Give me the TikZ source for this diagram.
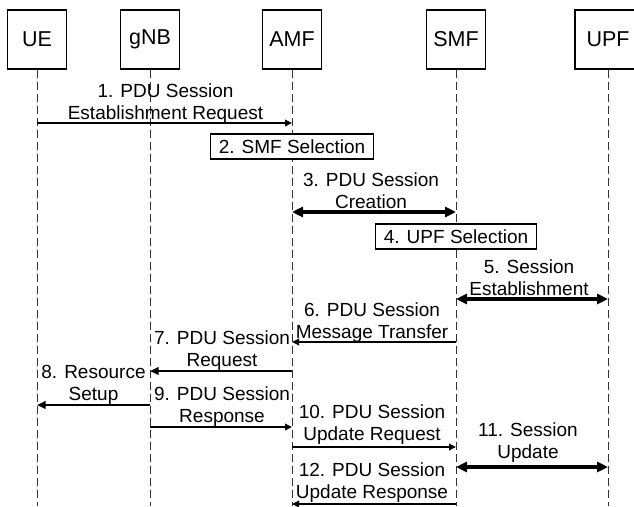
\documentclass[tikz,border=0pt]{standalone}
\usepackage{fontspec}
\setmainfont{Liberation Sans}
\usetikzlibrary{arrows.meta,calc}
% two centred lines whose baseline is the baseline of the last line
\newcommand\lbltwo[2]{\begin{tabular}[b]{@{}c@{}}#1\\#2\end{tabular}}
\begin{document}
\begin{tikzpicture}[x=1pt,y=-1pt,
  actor/.style={draw, fill=white, line width=1.2pt, minimum width=59pt, minimum height=59pt,
    inner sep=0pt, font=\fontsize{21.5}{24}\selectfont},
  stepbox/.style={draw, fill=white, line width=1.1pt, minimum height=25pt, inner xsep=8.5pt,
    inner ysep=0pt, font=\fontsize{19}{21.5}\selectfont},
  lifeline/.style={line width=0.9pt, dash pattern=on 8pt off 4pt, draw=black!80},
  msg/.style={line width=1.8pt, -{Triangle[length=7pt,width=6.5pt]}},
  msgmid/.style={line width=2.5pt, -{Triangle[length=8.5pt,width=7.5pt]}},
  bidir/.style={line width=3.5pt,
    {Triangle[length=11pt,width=10pt]}-{Triangle[length=11pt,width=10pt]}},
  lbl/.style={anchor=base, inner sep=0pt, font=\fontsize{19}{21.5}\selectfont}]

\useasboundingbox[fill=white] (0,0) rectangle (634,506);

% participants
\node[actor] (ue)  at (37,39.5)  {UE};
\node[actor] (gnb) at (150,39.5) {gNB};
\node[actor] (amf) at (292,39.5) {AMF};
\node[actor] (smf) at (456,39.5) {SMF};
\node[actor, minimum width=66pt] (upf) at (608,39.5) {UPF};

\coordinate (bottom) at (0,506);
\foreach \p in {ue,gnb,amf,smf,upf}
  \draw[lifeline] (\p.south) -- (\p |- bottom);

% message rows (arrow height) and label baselines
\coordinate (y1) at (0,123);  \coordinate (b1) at (0,119);
\coordinate (y2) at (0,146.5);
\coordinate (y3) at (0,212);  \coordinate (b3) at (0,208);
\coordinate (y4) at (0,236.5);
\coordinate (y5) at (0,299);  \coordinate (b5) at (0,295);
\coordinate (y6) at (0,342);  \coordinate (b6) at (0,338);
\coordinate (y7) at (0,371);  \coordinate (b7) at (0,366);
\coordinate (y8) at (0,405);  \coordinate (b8) at (0,400);
\coordinate (y9) at (0,427);  \coordinate (b9) at (0,422);
\coordinate (y10) at (0,447); \coordinate (b10) at (0,440);
\coordinate (y11) at (0,467); \coordinate (b11) at (0,458);
\coordinate (y12) at (0,504); \coordinate (b12) at (0,498);

% 1
\draw[msg] (ue |- y1) -- (amf |- y1);
\node[lbl, xshift=1pt] (l1) at ($(ue |- b1)!0.5!(amf |- b1)$)
  {\lbltwo{1. PDU Session}{Establishment Request}};
% 2
\node[stepbox] (s2) at (amf |- y2) {2. SMF Selection};
% 3
\draw[bidir] (amf |- y3) -- (smf |- y3);
\node[lbl, xshift=-3pt] (l3) at ($(amf |- b3)!0.5!(smf |- b3)$)
  {\lbltwo{3. PDU Session}{Creation}};
% 4
\node[stepbox] (s4) at (smf |- y4) {4. UPF Selection};
% 5
\draw[bidir] (smf |- y5) -- (upf |- y5);
\node[lbl, xshift=-3pt] (l5) at ($(smf |- b5)!0.5!(upf |- b5)$)
  {\lbltwo{5. Session}{Establishment}};
% 6
\draw[msg] (smf |- y6) -- (amf |- y6);
\node[lbl, xshift=-2pt] (l6) at ($(amf |- b6)!0.5!(smf |- b6)$)
  {\lbltwo{6. PDU Session}{Message Transfer}};
% 7
\draw[msgmid] (amf |- y7) -- (gnb |- y7);
\node[lbl, xshift=1pt] (l7) at ($(gnb |- b7)!0.5!(amf |- b7)$)
  {\lbltwo{7. PDU Session}{Request}};
% 8
\draw[msgmid] (gnb |- y8) -- (ue |- y8);
\node[lbl] (l8) at ($(ue |- b8)!0.5!(gnb |- b8)$)
  {\lbltwo{8. Resource}{Setup}};
% 9
\draw[msg] (gnb |- y9) -- (amf |- y9);
\node[lbl, xshift=1pt] (l9) at ($(gnb |- b9)!0.5!(amf |- b9)$)
  {\lbltwo{9. PDU Session}{Response}};
% 10
\draw[msg] (amf |- y10) -- (smf |- y10);
\node[lbl, xshift=-2pt] (l10) at ($(amf |- b10)!0.5!(smf |- b10)$)
  {\lbltwo{10. PDU Session}{Update Request}};
% 11
\draw[bidir] (smf |- y11) -- (upf |- y11);
\node[lbl, xshift=-4pt] (l11) at ($(smf |- b11)!0.5!(upf |- b11)$)
  {\lbltwo{11. Session}{Update}};
% 12
\draw[msg] (smf |- y12) -- (amf |- y12);
\node[lbl, xshift=-2pt] (l12) at ($(amf |- b12)!0.5!(smf |- b12)$)
  {\lbltwo{12. PDU Session}{Update Response}};
\end{tikzpicture}
\end{document}
